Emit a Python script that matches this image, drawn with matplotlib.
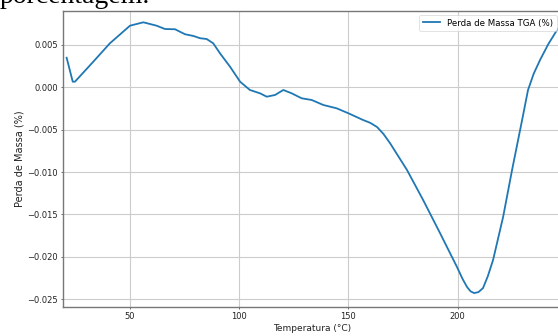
import matplotlib
matplotlib.use("Agg")
from matplotlib import pyplot as plt

# temperatura (°C) e perda de massa (%)
temperatura = [21.0, 23.8, 24.8, 33.2, 40.8, 50.0, 56.1, 62.2, 66.0, 70.6,
               75.2, 79.0, 82.1, 85.1, 88.1, 91.2, 95.8, 100.4, 104.9, 109.5,
               112.6, 116.4, 120.2, 124.0, 128.6, 133.2, 138.5, 144.6, 150.0,
               156.7, 160.0, 163.1, 166.0, 169.0, 176.8, 184.2, 191.9, 199.7,
               202.2, 204.3, 205.9, 207.5, 209.5, 211.6, 213.8, 216.2, 220.8,
               224.9, 229.5, 232.2, 234.8, 237.7, 241.5, 245.5, 249.0]
perda_massa = [0.00349, 0.00066, 0.00066, 0.00302, 0.00519, 0.00727, 0.00767,
               0.00727, 0.00688, 0.00685, 0.00626, 0.00606, 0.00579, 0.00570,
               0.00519, 0.00401, 0.00243, 0.00066, -0.00032, -0.00071, -0.00111,
               -0.00091, -0.00032, -0.00071, -0.00130, -0.00150, -0.00209,
               -0.00248, -0.00307, -0.00386, -0.00420, -0.00469, -0.00550,
               -0.00658, -0.00976, -0.01331, -0.01720, -0.02122, -0.02260,
               -0.02358, -0.02408, -0.02429, -0.02418, -0.02370, -0.02230,
               -0.02039, -0.01531, -0.00976, -0.00386, -0.00032, 0.00160,
               0.00322, 0.00510, 0.00677, 0.00780]
xticks = [50, 100, 150, 200]
yticks = [-0.025, -0.020, -0.015, -0.010, -0.005, 0.000, 0.005]

W, H = 558, 336
fig = plt.figure(figsize=(W / 50, H / 50), dpi=50)
ax = fig.add_axes([62.7 / W, (H - 307.3) / H, (561 - 62.7) / W, 296.6 / H])

ax.plot(temperatura, perda_massa, color="#1f77b4", linewidth=2.6,
        label="Perda de Massa TGA (%)")

ax.set_xlim(19.2, 247.3)
ax.set_ylim(-0.02597, 0.00904)
ax.set_xticks(xticks)
ax.set_yticks(yticks)
ax.set_yticklabels([f"{v:.3f}".replace("-", "\u2212") for v in yticks])

ax.set_xlabel("Temperatura (°C)", color="#222222", fontsize=13)
ax.set_ylabel("Perda de Massa (%)", color="#222222", fontsize=14)
ax.tick_params(colors="#555555", labelcolor="#222222", width=1.2, labelsize=12)
ax.grid(True, color="#cccccc", linewidth=1.6)
for s in ax.spines.values():
    s.set_color("#777777")
    s.set_linewidth(2)

ax.legend(loc="upper right", fontsize=12.5)

fig.text(0.0, (H - 3) / H, "porcentagem.", family="Liberation Serif",
         fontsize=40, va="baseline", ha="left")

fig.savefig("out.png", dpi=50)
